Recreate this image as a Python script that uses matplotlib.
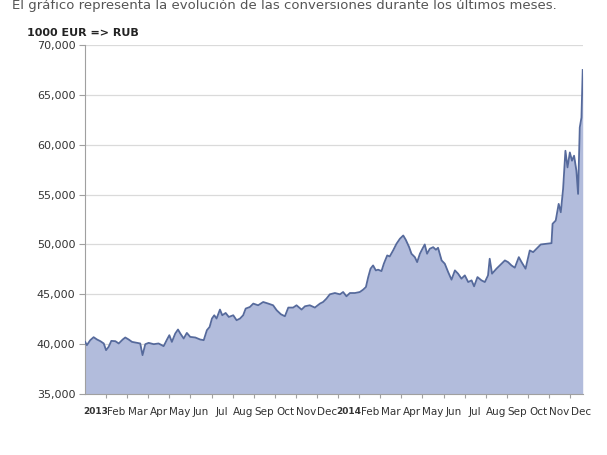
import matplotlib

matplotlib.use("Agg")

import matplotlib.pyplot as plt
from matplotlib.ticker import FuncFormatter

# x = months since 1 Jan 2013, y = RUB for 1000 EUR
months = [
    0.01, 0.09, 0.25, 0.41, 0.57, 0.73, 0.89, 1.00, 1.12, 1.25,
    1.44, 1.60, 1.79, 1.91, 2.07, 2.23, 2.46, 2.62, 2.73, 2.86,
    3.02, 3.26, 3.49, 3.73, 3.89, 4.00, 4.12, 4.28, 4.41, 4.52,
    4.68, 4.83, 4.99, 5.23, 5.46, 5.63, 5.78, 5.91, 6.02, 6.13,
    6.24, 6.40, 6.51, 6.67, 6.82, 7.03, 7.19, 7.35, 7.50, 7.62,
    7.82, 7.98, 8.21, 8.45, 8.69, 8.92, 9.09, 9.29, 9.48, 9.64,
    9.87, 10.03, 10.27, 10.43, 10.66, 10.90, 11.14, 11.29, 11.45, 11.61,
    11.85, 12.09, 12.24, 12.40, 12.56, 12.80, 13.03, 13.19, 13.32, 13.43,
    13.54, 13.66, 13.79, 13.90, 14.06, 14.17, 14.33, 14.45, 14.61, 14.77,
    14.93, 15.09, 15.21, 15.37, 15.48, 15.64, 15.75, 15.88, 16.00, 16.11,
    16.22, 16.35, 16.51, 16.64, 16.74, 16.91, 17.06, 17.22, 17.38, 17.54,
    17.69, 17.85, 18.01, 18.17, 18.33, 18.45, 18.61, 18.80, 18.96, 19.11,
    19.19, 19.30, 19.51, 19.75, 19.91, 20.06, 20.22, 20.38, 20.57, 20.70,
    20.89, 21.09, 21.25, 21.41, 21.61, 21.88, 22.12, 22.17, 22.32, 22.46,
    22.56, 22.67, 22.78, 22.88, 22.99, 23.09, 23.19, 23.30, 23.38, 23.46,
    23.54, 23.57, 23.60,
]
rub = [
    40230, 39900, 40400, 40700, 40470, 40300, 40070, 39400, 39730, 40330,
    40300, 40070, 40470, 40670, 40470, 40230, 40130, 40070, 38900, 40000,
    40130, 40000, 40070, 39800, 40470, 40900, 40230, 41070, 41470, 41070,
    40570, 41130, 40730, 40670, 40470, 40400, 41400, 41730, 42570, 42900,
    42570, 43470, 42900, 43130, 42730, 42900, 42400, 42570, 42900, 43570,
    43730, 44070, 43900, 44230, 44070, 43900, 43400, 43000, 42800, 43670,
    43670, 43900, 43470, 43800, 43900, 43670, 44070, 44230, 44570, 45000,
    45130, 45000, 45230, 44800, 45130, 45130, 45230, 45470, 45730, 46730,
    47570, 47900, 47400, 47470, 47330, 48070, 48900, 48800, 49400, 50070,
    50570, 50900, 50470, 49730, 49070, 48730, 48230, 49070, 49570, 50000,
    49070, 49570, 49730, 49470, 49670, 48400, 48070, 47230, 46470, 47400,
    47070, 46570, 46900, 46230, 46400, 45800, 46730, 46400, 46230, 46900,
    48570, 47070, 47570, 48070, 48400, 48230, 47900, 47670, 48730, 48230,
    47570, 49400, 49230, 49570, 50000, 50070, 50130, 52070, 52400, 54070,
    53230, 55570, 59400, 57730, 59230, 58400, 58900, 57400, 55070, 61730,
    62730, 65070, 67500,
]
month_labels = ["2013", "Feb", "Mar", "Apr", "May", "Jun", "Jul", "Aug", "Sep", "Oct", "Nov", "Dec",
                "2014", "Feb", "Mar", "Apr", "May", "Jun", "Jul", "Aug", "Sep", "Oct", "Nov", "Dec"]
y_ticks = [35000, 40000, 45000, 50000, 55000, 60000, 65000, 70000]

C_FILL = "#b2bcdc"
C_LINE = "#566a9c"
C_GRID = "#dadada"
C_AXIS = "#a0a0a0"
C_TEXT = "#333333"

fig = plt.figure(figsize=(6.07, 4.55), dpi=100)
fig.patch.set_facecolor("white")
ax = fig.add_axes([0.140, 0.134, 0.820, 0.767])

ax.fill_between(months, rub, 35000, color=C_FILL, lw=0, zorder=2)
ax.plot(months, rub, color=C_LINE, lw=1.3, zorder=3)

ax.set_xlim(0, 23.6)
ax.set_ylim(35000, 70000)
ax.set_yticks(y_ticks)
ax.yaxis.set_major_formatter(FuncFormatter(lambda v, _: f"{v:,.0f}"))
ax.grid(axis="y", color=C_GRID, lw=0.9, zorder=1)

for side in ("top", "right"):
    ax.spines[side].set_visible(False)
ax.spines["left"].set_color(C_AXIS)
ax.spines["bottom"].set_color(C_AXIS)

ax.tick_params(axis="y", length=4, color=C_AXIS, labelsize=8, labelcolor=C_TEXT, pad=3)

# month marks at month starts, labels centred mid-month
ax.set_xticks(range(1, 24))
ax.set_xticks([i + 0.5 for i in range(24)], minor=True)
ax.set_xticklabels([])
ax.set_xticklabels(month_labels, minor=True)
ax.tick_params(axis="x", which="major", length=3, color=C_AXIS)
ax.tick_params(axis="x", which="minor", length=0, labelsize=7.5, labelcolor=C_TEXT, pad=9)
for lbl in ax.get_xticklabels(minor=True):
    if lbl.get_text() in ("2013", "2014"):
        lbl.set_fontweight("bold")
        lbl.set_fontsize(6.5)

fig.text(12 / 607, 1 - 5 / 455,
         "El gráfico representa la evolución de las conversiones durante los últimos meses.",
         fontsize=9.5, color="#555555", ha="left", va="center")
fig.text(27 / 607, 1 - 33 / 455, "1000 EUR => RUB",
         fontsize=8, fontweight="bold", color="#222222", ha="left", va="center")

fig.savefig("out.png", dpi=100, facecolor="white")
